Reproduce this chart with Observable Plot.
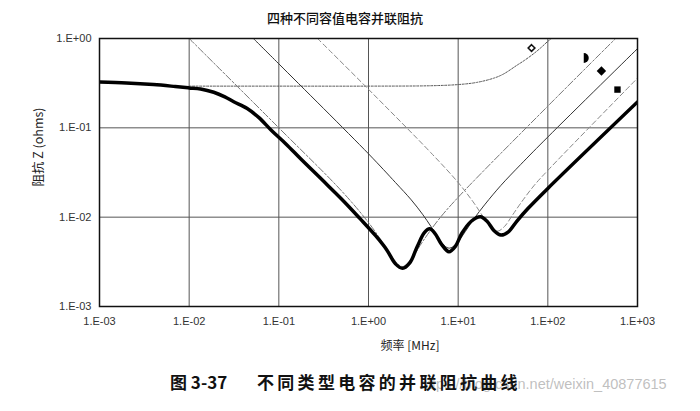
<!DOCTYPE html>
<html><head><meta charset="utf-8">
<script src="https://cdn.jsdelivr.net/npm/d3@7"></script>
<script src="https://cdn.jsdelivr.net/npm/@observablehq/plot@0.6"></script>
<style>
body{margin:0;background:#fff;}
#wrap{position:relative;width:700px;height:411px;overflow:hidden;background:#fff;}
.t{position:absolute;white-space:nowrap;line-height:1;}
</style>
</head><body>
<div id="wrap"></div>
<script>
// ---- tick values and labels ----
const xTickValues = [1e-3, 1e-2, 1e-1, 1, 10, 100, 1000];
const xTickLabels = ["1.E-03", "1.E-02", "1.E-01", "1.E+00", "1.E+01", "1.E+02", "1.E+03"];
const yTickValues = [1e-3, 1e-2, 1e-1, 1];
const yTickLabels = ["1.E-03", "1.E-02", "1.E-01", "1.E+00"];

// ---- combined (parallel) impedance, thick curve: frequency MHz / ohms ----
const totalF = [0.001, 0.002, 0.004, 0.007, 0.01, 0.0134, 0.0188, 0.025, 0.0314, 0.0444, 0.06, 0.084, 0.12, 0.175, 0.3, 0.5, 0.8, 1.2, 1.6, 2.0, 2.4, 2.9, 3.5, 4.2, 4.8, 5.5, 6.5, 7.9, 9.3, 11, 14, 17.7, 21, 25, 30, 36, 45, 60, 100, 1000];
const totalZ = [0.325, 0.318, 0.305, 0.29, 0.28, 0.272, 0.25, 0.222, 0.196, 0.165, 0.13, 0.092, 0.066, 0.045, 0.0265, 0.016, 0.0097, 0.0062, 0.0043, 0.0030, 0.00268, 0.0031, 0.0047, 0.0067, 0.0074, 0.0066, 0.0050, 0.0041, 0.0047, 0.0066, 0.0090, 0.0101, 0.0090, 0.0071, 0.0063, 0.0068, 0.0090, 0.0125, 0.021, 0.195];

// ---- electrolytic capacitor (dotted, marker ◇) ----
const elecF = [0.01, 0.1, 1, 5, 10, 16, 25, 32, 45, 55, 70, 85, 100, 110];
const elecZ = [0.293, 0.293, 0.293, 0.296, 0.305, 0.322, 0.36, 0.40, 0.50, 0.57, 0.68, 0.80, 0.93, 1.0];

// ---- capacitor A (dash-dot, marker ◗) ----
const capAF = [0.01, 0.1, 0.5, 1, 1.5, 2, 2.4, 3, 4, 6, 10, 100, 570];
const capAZ = [1, 0.1, 0.0197, 0.0087, 0.0049, 0.0032, 0.0028, 0.0034, 0.0053, 0.0093, 0.0167, 0.175, 1];

// ---- capacitor B (thin solid, marker ◆) ----
const capBF = [0.052, 0.1, 1, 2, 3, 4, 5, 6, 7, 8, 9.5, 12, 15, 20, 30, 50, 100, 1000];
const capBZ = [1, 0.52, 0.0512, 0.0244, 0.0156, 0.0108, 0.0078, 0.0059, 0.0048, 0.0045, 0.0050, 0.0069, 0.0096, 0.014, 0.0227, 0.039, 0.079, 0.77];

// ---- capacitor C (dashed, marker ■) ----
const capCF = [0.27, 1, 5, 10, 15, 20, 25, 28, 33, 40, 50, 70, 100, 1000];
const capCZ = [1, 0.27, 0.0522, 0.0244, 0.0144, 0.0094, 0.0072, 0.0070, 0.0079, 0.0104, 0.0144, 0.0225, 0.0334, 0.36];

// ---- series markers placed at the right (freq, ohms) ----
const markerNames = ["elec", "capA", "capB", "capC"];
const markerF = [65.8, 263, 396, 598];
const markerZ = [0.782, 0.604, 0.432, 0.268];

const pts = (F, Z) => F.map((f, i) => ({f, z: Z[i]}));
const total = pts(totalF, totalZ);
const elec = pts(elecF, elecZ);
const capA = pts(capAF, capAZ);
const capB = pts(capBF, capBZ);
const capC = pts(capCF, capCZ);
const markers = markerNames.map((n, i) => ({n, f: markerF[i], z: markerZ[i]}));

const labelOf = (values, labels) => d => {
  let best = 0;
  values.forEach((v, i) => { if (Math.abs(Math.log10(v) - Math.log10(d)) < Math.abs(Math.log10(values[best]) - Math.log10(d))) best = i; });
  return labels[best];
};

const halfCircle = {
  draw(ctx, size) {
    const r = Math.sqrt(size / Math.PI);
    ctx.moveTo(-r * 0.35, -r);
    ctx.arc(-r * 0.35, 0, r, -Math.PI / 2, Math.PI / 2);
    ctx.closePath();
  }
};
const rhombus = {
  draw(ctx, size) {
    const r = Math.sqrt(size / Math.PI) * 1.05;
    ctx.moveTo(0, -r); ctx.lineTo(r, 0); ctx.lineTo(0, r); ctx.lineTo(-r, 0); ctx.closePath();
  }
};

const chart = Plot.plot({
  width: 700,
  height: 411,
  marginTop: 38,
  marginLeft: 99,
  marginRight: 63,
  marginBottom: 105,
  style: {fontFamily: "'Liberation Sans', Arial, sans-serif", fontSize: "11px", color: "#333", background: "transparent"},
  x: {type: "log", domain: [1e-3, 1e3]},
  y: {type: "log", domain: [1e-3, 1]},
  marks: [
    Plot.ruleX(xTickValues, {stroke: "#555", strokeWidth: 1}),
    Plot.ruleY(yTickValues, {stroke: "#555", strokeWidth: 1}),
    Plot.axisX({ticks: xTickValues, tickFormat: labelOf(xTickValues, xTickLabels), tickSize: 0, tickPadding: 11, label: null, fontSize: 11}),
    Plot.axisY({ticks: yTickValues, tickFormat: labelOf(yTickValues, yTickLabels), tickSize: 0, tickPadding: 8, label: null, fontSize: 11}),
    Plot.line(elec, {x: "f", y: "z", stroke: "#555", strokeWidth: 1, strokeDasharray: "2,1.5", curve: "catmull-rom", clip: true}),
    Plot.line(capA, {x: "f", y: "z", stroke: "#777", strokeWidth: 1, strokeDasharray: "7,2,2,2", curve: "catmull-rom", clip: true}),
    Plot.line(capB, {x: "f", y: "z", stroke: "#333", strokeWidth: 1, curve: "catmull-rom", clip: true}),
    Plot.line(capC, {x: "f", y: "z", stroke: "#888", strokeWidth: 1, strokeDasharray: "5,3", curve: "catmull-rom", clip: true}),
    Plot.line(total, {x: "f", y: "z", stroke: "#000", strokeWidth: 3.5, strokeLinejoin: "round", strokeLinecap: "round", curve: "catmull-rom", clip: true}),
    Plot.dot([markers[0]], {x: "f", y: "z", symbol: "diamond2", r: 3, stroke: "#111", strokeWidth: 1.6}),
    Plot.dot([markers[1]], {x: "f", y: "z", symbol: halfCircle, r: 5, fill: "#000", stroke: "none"}),
    Plot.dot([markers[2]], {x: "f", y: "z", symbol: rhombus, r: 4.5, fill: "#000", stroke: "none"}),
    Plot.dot([markers[3]], {x: "f", y: "z", symbol: "square", r: 3.6, fill: "#000", stroke: "none"}),
    Plot.frame({stroke: "#111", strokeWidth: 1.5})
  ]
});

const wrap = document.getElementById("wrap");
wrap.appendChild(chart);
chart.style.position = "absolute";
chart.style.left = "0px";
chart.style.top = "0px";

function addText(txt, css) {
  const d = document.createElement("div");
  d.className = "t";
  d.textContent = txt;
  Object.assign(d.style, css);
  wrap.appendChild(d);
  return d;
}
const cjk = "'Noto Sans CJK SC', 'Liberation Sans', sans-serif";
addText("四种不同容值电容并联阻抗", {left: "345px", top: "11px", transform: "translateX(-50%)", fontFamily: cjk, fontSize: "13px", fontWeight: "500", color: "#111"});
addText("阻抗  Z (ohms)", {left: "38px", top: "147px", transform: "translate(-50%,-50%) rotate(-90deg)", fontFamily: cjk, fontSize: "12.5px", color: "#222"});
addText("频率    [MHz]", {left: "410px", top: "339px", transform: "translateX(-50%)", fontFamily: cjk, fontSize: "12px", color: "#222"});
addText("https://blog.csdn.net/weixin_40877615", {left: "420px", top: "377px", fontFamily: "'Liberation Sans', Arial, sans-serif", fontSize: "14.5px", color: "rgba(175,175,175,0.8)"});
addText("图 3-37", {left: "170px", top: "373px", fontFamily: cjk, fontSize: "17px", fontWeight: "bold", color: "#111"});
addText("不同类型电容的并联阻抗曲线", {left: "257px", top: "373px", fontFamily: cjk, fontSize: "17px", letterSpacing: "3.3px", fontWeight: "bold", color: "#111"});
</script>
</body></html>
